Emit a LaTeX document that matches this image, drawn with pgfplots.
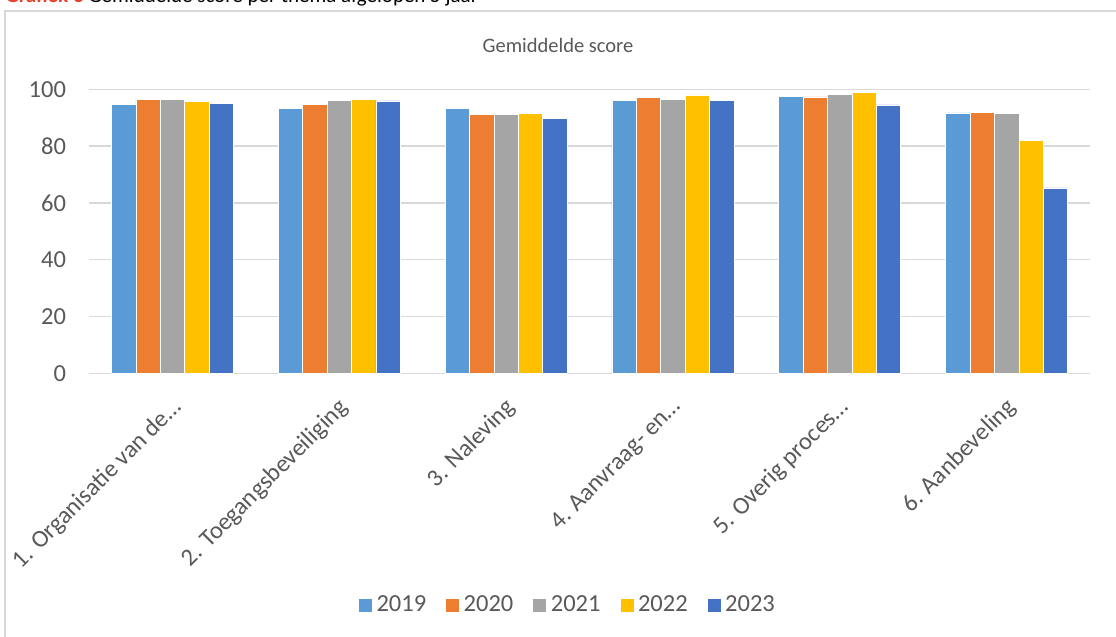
\documentclass[border=0pt]{standalone}
\usepackage{fontspec}
\setmainfont{Carlito}
\usepackage{pgfplots}
\pgfplotsset{compat=1.18}

\definecolor{c19}{HTML}{5B9BD5}
\definecolor{c20}{HTML}{ED7D31}
\definecolor{c21}{HTML}{A5A5A5}
\definecolor{c22}{HTML}{FFC000}
\definecolor{c23}{HTML}{4472C4}
\definecolor{txt}{HTML}{595959}
\definecolor{gridc}{HTML}{D9D9D9}
\definecolor{capred}{HTML}{E8412C}

\begin{document}
\begin{tikzpicture}
  % 1 px of the reference = 0.5pt
  \useasboundingbox (0,0) rectangle (558pt,-318.5pt);
  \fill[white] (0,0) rectangle (558pt,-318.5pt);

  % frame of the chart (only left and top edge visible)
  \draw[gridc, line width=0.75pt] (2.5pt,-318.5pt) -- (2.5pt,-5.5pt) -- (558pt,-5.5pt);

  % caption, cut off at the top
  \node[anchor=base west, inner sep=0pt, font=\fontsize{10.5}{12}\selectfont]
    at (2.5pt,-1.2pt) {\textcolor{capred}{\textbf{Grafiek 3}} Gemiddelde score per thema afgelopen 5 jaar};

  % chart title
  \node[font=\fontsize{10.25}{12}\selectfont, text=txt] at (279pt,-22.5pt) {Gemiddelde score};

  \begin{axis}[
      at={(44.5pt,-186.65pt)}, anchor=south west,
      scale only axis,
      width=500.5pt, height=142pt,
      ybar=0pt, bar width=12.2pt,
      xmin=-0.5, xmax=5.5,
      ymin=0, ymax=100,
      xtick=data,
      xticklabels={1. Organisatie van de…, 2. Toegangsbeveiliging, 3. Naleving,
                   4. Aanvraag- en…, 5. Overig proces…, 6. Aanbeveling},
      ytick={0,20,...,100},
      ymajorgrids, xmajorgrids=false,
      grid style={draw=gridc, line width=0.75pt},
      axis x line=bottom, axis y line=left,
      x axis line style={draw=gridc, line width=0.75pt, -},
      y axis line style={draw=none},
      major tick length=0pt,
      xtick style={draw=none}, ytick style={draw=none},
      tick label style={font=\fontsize{12.25}{14}\selectfont, text=txt},
      /pgf/number format/assume math mode=true,
      yticklabel style={xshift=-8pt},
      xticklabel style={rotate=45, anchor=north east, xshift=-5.5pt, yshift=-4pt},
      legend style={at={(0.479,-0.817)}, anchor=center, draw=none,
                    legend columns=5, font=\fontsize{12.25}{14}\selectfont, text=txt,
                    /tikz/every even column/.append style={column sep=7.5pt}},
      legend image code/.code={\fill[#1] (0pt,-3.5pt) rectangle (7pt,3.5pt);},
      every axis plot/.append style={draw=white, line width=0.25pt},
    ]
    \addplot[fill=c19] coordinates {(0,94.6) (1,93.2) (2,93.2) (3,96.1) (4,97.4) (5,91.7)};
    \addplot[fill=c20] coordinates {(0,96.4) (1,94.6) (2,91.3) (3,97.1) (4,97.3) (5,91.9)};
    \addplot[fill=c21] coordinates {(0,96.4) (1,96.1) (2,91.2) (3,96.4) (4,98.2) (5,91.5)};
    \addplot[fill=c22] coordinates {(0,95.8) (1,96.5) (2,91.6) (3,98.0) (4,98.9) (5,82.0)};
    \addplot[fill=c23] coordinates {(0,95.0) (1,95.9) (2,89.7) (3,96.1) (4,94.5) (5,65.3)};
    \legend{2019,2020,2021,2022,2023}
  \end{axis}
\end{tikzpicture}
\end{document}
